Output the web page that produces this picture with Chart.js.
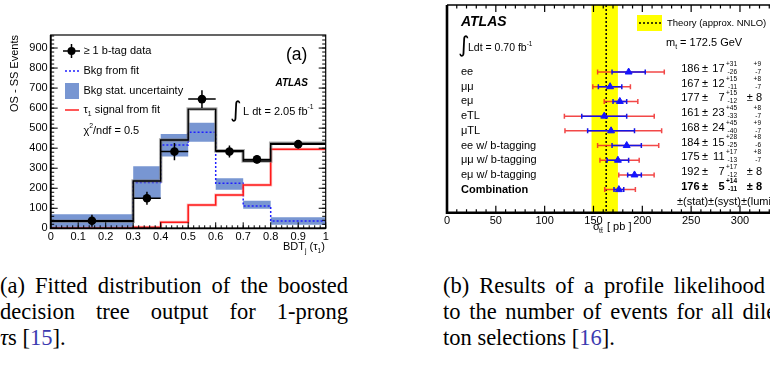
<!DOCTYPE html>
<html>
<head>
<meta charset="utf-8">
<script src="https://cdn.jsdelivr.net/npm/chart.js@4.4.0/dist/chart.umd.min.js"></script>
<style>
    body { margin: 0; width: 770px; height: 372px; overflow: hidden; background: #fff; position: relative; }
    #left { position: absolute; left: 0; top: 0; }
    #right { position: absolute; left: 400px; top: 0; }
    .cap { position: absolute; font-family: "Liberation Serif", "Times New Roman", serif; font-size: 22.5px; line-height: 26px; color: #000; }
    .cap div { text-align: justify; text-align-last: justify; }
    .cap div.last { text-align-last: left; }
    .ref { color: #3b3bb0; }
</style>
</head>
<body>
<canvas id="left" width="345" height="262"></canvas>
<canvas id="right" width="400" height="262"></canvas>

<div class="cap" style="left:0px; top:273px; width:348px;">
    <div>(a) Fitted distribution of the boosted</div>
    <div>decision tree output for 1-prong</div>
    <div class="last"><i>τ</i>s [<span class="ref">15</span>].</div>
</div>
<div class="cap" style="left:443px; top:273px; width:352px;">
    <div>(b) Results of a profile likelihood fit</div>
    <div>to the number of events for all dilep-</div>
    <div class="last">ton selections [<span class="ref">16</span>].</div>
</div>

<script>
// ---- panel (a) : BDT output ----
const binEdges = [0, 0.3, 0.4, 0.5, 0.6, 0.7, 0.8, 1.0];
const totalFit = [35, 236, 441, 595, 387, 336, 424];
const bkgFit = [35, 229, 416, 480, 225, 111, 36];
const bkgLow = [0, 150, 358, 432, 192, 97, 18];
const bkgHigh = [70, 310, 471, 527, 250, 138, 55];
const sigFit = [0, 5, 30, 116, 166, 216, 395];
const dataX = [0.15, 0.35, 0.45, 0.55, 0.65, 0.75, 0.9];
const dataY = [38, 150, 383, 645, 383, 344, 420];
const dataErr = [30, 33, 43, 44, 30, 21, 21];
const dataXErr = [0.15, 0.05, 0.05, 0.05, 0.05, 0.05, 0.1];

// ---- panel (b) : cross-section ----
const channels = ['ee', 'μμ', 'eμ', 'eTL', 'μTL', 'ee w/ b-tagging', 'μμ w/ b-tagging', 'eμ w/ b-tagging', 'Combination'];
const xsec = [186, 167, 177, 161, 168, 184, 175, 192, 176];
const stat = [17, 12, 7, 23, 24, 15, 11, 7, 5];
const systUp = [31, 15, 15, 45, 45, 28, 17, 17, 14];
const systDn = [26, 11, 12, 33, 40, 25, 13, 12, 11];
const lumiUp = [9, 8, 8, 8, 9, 8, 8, 8, 8];
const lumiDn = [7, 7, 8, 7, 7, 6, 7, 8, 8];
const totUp = [36.5, 20.8, 18.4, 51.2, 51.8, 32.8, 21.8, 20.1, 16.9];
const totDn = [31.8, 17.7, 16.0, 40.8, 47.2, 29.8, 18.4, 16.1, 14.5];
const theoryBand = [148, 175];
const theoryValue = 163;

const SANS = '"Liberation Sans", Arial, sans-serif';

function stepPoints(values) {
    const pts = values.map((v, i) => ({ x: binEdges[i], y: v }));
    pts.push({ x: binEdges[binEdges.length - 1], y: values[values.length - 1] });
    return pts;
}

function histo(values, color, width, order, dash) {
    return {
        data: stepPoints(values), showLine: true, stepped: true,
        borderColor: color, borderWidth: width, borderDash: dash || [],
        pointRadius: 0, fill: false, order: order
    };
}

// texte avec indices / exposants
function rich(ctx, x, y, parts, size, weight) {
    ctx.textBaseline = 'middle';
    ctx.textAlign = 'left';
    parts.forEach(p => {
        const s = p.s ? size * 0.62 : size;
        ctx.font = (p.style || weight || '') + ' ' + s + 'px ' + (p.font || SANS);
        const dy = p.s === 'sub' ? size * 0.35 : (p.s === 'sup' ? -size * 0.4 : 0);
        ctx.fillText(p.t, x, y + dy);
        x += ctx.measureText(p.t).width;
    });
}

function tickRun(ctx, scale, from, to, step, len, fn) {
    for (let v = from; v <= to + 1e-9; v += step) {
        fn(scale.getPixelForValue(v), len);
    }
}

const noGrid = { display: false, drawTicks: false, tickLength: 0 };

const leftDecor = {
    id: 'leftDecor',
    afterDraw(chart) {
        const ctx = chart.ctx;
        const a = chart.chartArea;
        const xs = chart.scales.x, ys = chart.scales.y;
        ctx.save();

        // barres d'erreur des données
        ctx.strokeStyle = '#000';
        ctx.lineWidth = 1.5;
        dataX.forEach((x, i) => {
            ctx.beginPath();
            ctx.moveTo(xs.getPixelForValue(x - dataXErr[i]), ys.getPixelForValue(dataY[i]));
            ctx.lineTo(xs.getPixelForValue(x + dataXErr[i]), ys.getPixelForValue(dataY[i]));
            ctx.moveTo(xs.getPixelForValue(x), ys.getPixelForValue(dataY[i] - dataErr[i]));
            ctx.lineTo(xs.getPixelForValue(x), ys.getPixelForValue(dataY[i] + dataErr[i]));
            ctx.stroke();
        });

        // cadre
        ctx.lineWidth = 1.2;
        ctx.strokeRect(a.left, a.top, a.right - a.left, a.bottom - a.top);
        ctx.lineWidth = 1.8;
        ctx.beginPath();
        ctx.moveTo(a.left, a.top); ctx.lineTo(a.left, a.bottom); ctx.lineTo(a.right, a.bottom);
        ctx.stroke();

        // graduations internes
        ctx.lineWidth = 1;
        ctx.beginPath();
        const yTick = (p, len) => {
            ctx.moveTo(a.left, p); ctx.lineTo(a.left + len, p);
            ctx.moveTo(a.right, p); ctx.lineTo(a.right - len, p);
        };
        tickRun(ctx, ys, 0, 960, 20, 3.5, yTick);
        tickRun(ctx, ys, 0, 900, 100, 7, yTick);
        const xTick = (p, len) => { ctx.moveTo(p, a.bottom); ctx.lineTo(p, a.bottom - len); };
        tickRun(ctx, xs, 0, 1, 0.02, 3, xTick);
        tickRun(ctx, xs, 0, 1, 0.1, 6, xTick);
        ctx.stroke();

        // légende
        ctx.fillStyle = '#000';
        ctx.lineWidth = 1.5;
        ctx.beginPath();
        ctx.moveTo(63, 51); ctx.lineTo(80, 51);
        ctx.moveTo(71.5, 44); ctx.lineTo(71.5, 58);
        ctx.stroke();
        ctx.beginPath(); ctx.arc(71.5, 51, 4, 0, Math.PI * 2); ctx.fill();

        ctx.strokeStyle = '#2020ff';
        ctx.setLineDash([2, 2]);
        ctx.beginPath(); ctx.moveTo(65, 71); ctx.lineTo(79, 71); ctx.stroke();
        ctx.setLineDash([]);
        ctx.fillStyle = '#7896d2';
        ctx.fillRect(65, 83, 14, 16);
        ctx.strokeStyle = '#ff2020';
        ctx.beginPath(); ctx.moveTo(65, 110); ctx.lineTo(79, 110); ctx.stroke();

        ctx.fillStyle = '#000';
        rich(ctx, 83.5, 51, [{ t: '≥ 1 b-tag data' }], 11);
        rich(ctx, 83.5, 71, [{ t: 'Bkg from fit' }], 11);
        rich(ctx, 83.5, 91, [{ t: 'Bkg stat. uncertainty' }], 11);
        rich(ctx, 83.5, 110, [{ t: 'τ' }, { t: '1', s: 'sub' }, { t: ' signal from fit' }], 11);
        rich(ctx, 83.5, 131, [{ t: 'χ' }, { t: '2', s: 'sup' }, { t: '/ndf = 0.5' }], 11);

        rich(ctx, 286, 55, [{ t: '(a)' }], 17.5);
        ctx.font = 'italic bold 10px ' + SANS;
        ctx.textAlign = 'right';
        ctx.fillText('ATLAS', 308, 83);
        ctx.font = '22px "DejaVu Sans"';
        ctx.textAlign = 'left';
        ctx.fillText('∫', 230, 111);
        rich(ctx, 243, 112, [{ t: 'L dt = 2.05 fb' }, { t: '-1', s: 'sup' }], 11);

        // titres des axes
        rich(ctx, 283, 247, [{ t: 'BDT' }, { t: 'j', s: 'sub' }, { t: ' (τ' }, { t: '1', s: 'sub' }, { t: ')' }], 11);
        ctx.translate(15, 35);
        ctx.rotate(-Math.PI / 2);
        ctx.font = '11px ' + SANS;
        ctx.textAlign = 'right';
        ctx.fillText('OS - SS Events', 0, 0);
        ctx.restore();
    }
};

new Chart(document.getElementById('left'), {
    type: 'scatter',
    data: {
        datasets: [
            { data: dataX.map((x, i) => ({ x: x, y: dataY[i] })), pointRadius: 4.3, backgroundColor: '#000', borderWidth: 0, order: 0 },
            histo(totalFit, '#000', 1.4, 1),
            histo(totalFit, 'rgba(120,120,120,0.6)', 3.5, 2),
            histo(sigFit, '#ff1a1a', 1.5, 3),
            histo(sigFit, 'rgba(255,130,130,0.5)', 3, 4),
            histo(bkgFit, '#2020ff', 1.5, 5, [2, 2]),
            { data: stepPoints(bkgLow), showLine: true, stepped: true, borderWidth: 0, pointRadius: 0, fill: false, order: 7 },
            { data: stepPoints(bkgHigh), showLine: true, stepped: true, borderWidth: 0, pointRadius: 0, fill: '-1', backgroundColor: '#7896d2', order: 6 }
        ]
    },
    options: {
        responsive: false,
        animation: false,
        layout: { padding: { left: 0, top: 35, right: 19.3, bottom: 0 } },
        plugins: { legend: { display: false }, tooltip: { enabled: false } },
        scales: {
            x: {
                type: 'linear', min: 0, max: 1,
                grid: noGrid, border: { display: false },
                ticks: {
                    stepSize: 0.1, padding: 2, color: '#000', font: { family: SANS, size: 11 }, maxRotation: 0,
                    callback: v => String(Math.round(v * 10) / 10)
                },
                afterFit: s => { s.height = 33.7; }
            },
            y: {
                type: 'linear', min: 0, max: 965,
                grid: noGrid, border: { display: false },
                ticks: { stepSize: 100, includeBounds: false, padding: 3, color: '#000', font: { family: SANS, size: 11 } },
                afterFit: s => { s.width = 50.7; }
            }
        }
    },
    plugins: [leftDecor]
});

// ---- panel (b) ----
const OX = 400;

const rightBand = {
    id: 'rightBand',
    beforeDatasetsDraw(chart) {
        const ctx = chart.ctx;
        const a = chart.chartArea;
        const xs = chart.scales.x, ys = chart.scales.y;
        ctx.save();
        ctx.fillStyle = '#ffff00';
        const b0 = xs.getPixelForValue(theoryBand[0]), b1 = xs.getPixelForValue(theoryBand[1]);
        ctx.fillRect(b0, a.top, b1 - b0, a.bottom - a.top);
        ctx.strokeStyle = '#000';
        ctx.lineWidth = 1.5;
        ctx.setLineDash([2, 2]);
        const tx = xs.getPixelForValue(theoryValue);
        ctx.beginPath(); ctx.moveTo(tx, a.top); ctx.lineTo(tx, a.bottom); ctx.stroke();
        ctx.setLineDash([]);

        const bar = (lo, hi, y, color) => {
            const x0 = xs.getPixelForValue(lo), x1 = xs.getPixelForValue(hi);
            ctx.strokeStyle = color;
            ctx.beginPath();
            ctx.moveTo(x0, y); ctx.lineTo(x1, y);
            ctx.moveTo(x0, y - 2.5); ctx.lineTo(x0, y + 2.5);
            ctx.moveTo(x1, y - 2.5); ctx.lineTo(x1, y + 2.5);
            ctx.stroke();
        };
        ctx.lineWidth = 1.5;
        xsec.forEach((c, i) => {
            const y = ys.getPixelForValue(i);
            bar(c - totDn[i], c + totUp[i], y, 'rgba(240,40,40,0.85)');
            bar(c - stat[i], c + stat[i], y, '#1414e6');
        });
        ctx.restore();
    },
    afterDraw(chart) {
        const ctx = chart.ctx;
        const a = chart.chartArea;
        const xs = chart.scales.x, ys = chart.scales.y;
        ctx.save();
        ctx.strokeStyle = '#000';

        // cadre
        ctx.lineWidth = 2.6;
        ctx.beginPath();
        ctx.moveTo(a.left, a.top); ctx.lineTo(a.left, a.bottom); ctx.lineTo(a.right, a.bottom);
        ctx.stroke();
        ctx.lineWidth = 1.6;
        ctx.beginPath(); ctx.moveTo(a.left, a.top); ctx.lineTo(a.right, a.top); ctx.stroke();

        ctx.lineWidth = 1.2;
        ctx.beginPath();
        const xTick = (p, len) => {
            ctx.moveTo(p, a.bottom); ctx.lineTo(p, a.bottom - len);
            ctx.moveTo(p, a.top); ctx.lineTo(p, a.top + len);
        };
        tickRun(ctx, xs, 0, 350, 10, 3.5, xTick);
        tickRun(ctx, xs, 0, 350, 50, 7, xTick);
        ctx.stroke();

        // textes
        ctx.fillStyle = '#000';
        ctx.font = 'italic bold 14px ' + SANS;
        ctx.textBaseline = 'middle';
        ctx.fillText('ATLAS', 461 - OX, 22);
        ctx.font = '22px "DejaVu Sans"';
        ctx.fillText('∫', 458 - OX, 46);
        rich(ctx, 468 - OX, 48, [{ t: 'Ldt = 0.70 fb' }, { t: '-1', s: 'sup' }], 10.5);

        // légende théorie
        ctx.fillStyle = '#ffff00';
        ctx.fillRect(637 - OX, 15, 25, 16);
        ctx.strokeStyle = '#000';
        ctx.lineWidth = 1.5;
        ctx.setLineDash([2, 2]);
        ctx.beginPath(); ctx.moveTo(639 - OX, 23); ctx.lineTo(661 - OX, 23); ctx.stroke();
        ctx.setLineDash([]);
        ctx.fillStyle = '#000';
        rich(ctx, 667 - OX, 23, [{ t: 'Theory (approx. NNLO)' }], 9.5);
        rich(ctx, 666 - OX, 43, [{ t: 'm' }, { t: 't', s: 'sub' }, { t: ' = 172.5 GeV' }], 11);

        channels.forEach((name, i) => {
            const y = ys.getPixelForValue(i);
            const w = name === 'Combination' ? 'bold' : '';
            rich(ctx, 461 - OX, y, [{ t: name }], 11, w);

            const ty = y - 3;
            ctx.font = w + ' 11px ' + SANS;
            ctx.textAlign = 'right';
            ctx.fillText(String(xsec[i]), 699.5 - OX, ty);
            ctx.textAlign = 'center';
            ctx.fillText('±', 705 - OX, ty);
            ctx.textAlign = 'right';
            ctx.fillText(String(stat[i]), 724.5 - OX, ty);

            ctx.font = w + ' 6.5px ' + SANS;
            ctx.fillText('+' + systUp[i], 737 - OX, y - 8);
            ctx.fillText('-' + systDn[i], 737 - OX, y);
            if (lumiUp[i] === lumiDn[i]) {
                ctx.font = w + ' 11px ' + SANS;
                ctx.fillText('± ' + lumiUp[i], 762 - OX, ty);
            } else {
                ctx.fillText('+' + lumiUp[i], 761 - OX, y - 8);
                ctx.fillText('-' + lumiDn[i], 761 - OX, y);
            }
        });
        rich(ctx, 677 - OX, 202, [{ t: '±(stat)±(syst)±(lumi)' }], 11);

        // titre axe x
        rich(ctx, 593 - OX, 227, [{ t: 'σ' }], 11);
        rich(ctx, 599 - OX, 227, [{ t: 'tt̄', s: 'sub' }], 11);
        rich(ctx, 607 - OX, 227, [{ t: '[ pb ]' }], 11);
        ctx.restore();
    }
};

new Chart(document.getElementById('right'), {
    type: 'scatter',
    data: {
        datasets: [{
            data: xsec.map((v, i) => ({ x: v, y: i })),
            pointStyle: 'triangle', pointRadius: 4,
            backgroundColor: '#1414ff', borderColor: '#1414ff', borderWidth: 1
        }]
    },
    options: {
        responsive: false,
        animation: false,
        layout: { padding: { left: 47, top: 3, right: 11.2, bottom: 0 } },
        plugins: { legend: { display: false }, tooltip: { enabled: false } },
        scales: {
            x: {
                type: 'linear', min: 0, max: 350,
                grid: noGrid, border: { display: false },
                ticks: {
                    stepSize: 50, padding: 2, color: '#000', font: { family: SANS, size: 11 }, maxRotation: 0,
                    callback: v => (v < 350 ? v : '')
                },
                afterFit: s => { s.height = 49.3; }
            },
            y: { type: 'linear', min: -4.56, max: 9.57, reverse: true, display: false }
        }
    },
    plugins: [rightBand]
});
</script>
</body>
</html>
